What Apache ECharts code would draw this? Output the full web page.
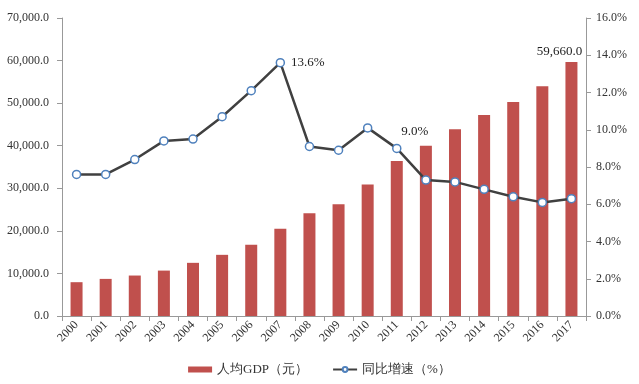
<!DOCTYPE html>
<html><head><meta charset="utf-8">
<script src="https://cdn.jsdelivr.net/npm/echarts@6/dist/echarts.min.js"></script>
<style>html,body{margin:0;padding:0;background:#fff}#c{width:639px;height:384px}</style>
</head><body><div id="c"></div>
<script>
const years = ['2000','2001','2002','2003','2004','2005','2006','2007','2008','2009','2010','2011','2012','2013','2014','2015','2016','2017'];
const gdpPerCapita = [7942,8717,9506,10666,12487,14368,16738,20505,24121,26222,30876,36403,40007,43852,47203,50251,53980,59660];
const growth = [7.6,7.6,8.4,9.4,9.5,10.7,12.1,13.6,9.1,8.9,10.1,9.0,7.3,7.2,6.8,6.4,6.1,6.3];
const barName = '人均GDP（元）';
const lineName = '同比增速（%）';
const labeledGrowth = {'2007':'right','2011':'top'};
const labeledBar = {'2017':true};

const font = '"Liberation Serif","Times New Roman",serif';
const chart = echarts.init(document.getElementById('c'));
chart.setOption({
  animation:false,
  textStyle:{fontFamily:font},
  grid:{left:62,right:53,top:18,bottom:68},
  legend:{
    bottom:3,left:'center',itemGap:24,
    textStyle:{fontFamily:font,fontSize:13,color:'#333'},
    data:[{name:barName,icon:'rect'},{name:lineName}],
    itemWidth:24,itemHeight:6
  },
  xAxis:{
    type:'category',data:years,
    axisLine:{lineStyle:{color:'#999'}},
    axisTick:{show:true,alignWithLabel:false,lineStyle:{color:'#999'},length:5},
    axisLabel:{rotate:45,fontFamily:font,fontSize:12,color:'#333',margin:7,interval:0}
  },
  yAxis:[{
    type:'value',min:0,max:70000,interval:10000,
    axisLine:{show:true,lineStyle:{color:'#999'}},
    axisTick:{show:true,lineStyle:{color:'#999'},length:5},
    splitLine:{show:false},
    axisLabel:{fontFamily:font,fontSize:12,color:'#333',margin:13,
      formatter:v=>v.toLocaleString('en-US',{minimumFractionDigits:1,maximumFractionDigits:1})}
  },{
    type:'value',min:0,max:16,interval:2,
    axisLine:{show:true,lineStyle:{color:'#999'}},
    axisTick:{show:true,lineStyle:{color:'#999'},length:5},
    splitLine:{show:false},
    axisLabel:{fontFamily:font,fontSize:12,color:'#333',margin:10,formatter:v=>v.toFixed(1)+'%'}
  }],
  series:[{
    name:barName,type:'bar',data:gdpPerCapita.map((v,i)=>({
      value:v,
      label:labeledBar[years[i]]?{show:true,position:'top',offset:[-12,0],distance:4,fontFamily:font,fontSize:13,color:'#222',
        formatter:p=>p.value.toLocaleString('en-US',{minimumFractionDigits:1})}:{show:false}
    })),
    barWidth:12,itemStyle:{color:'#c0504d'}
  },{
    name:lineName,type:'line',yAxisIndex:1,data:growth.map((v,i)=>{
      const pos = labeledGrowth[years[i]];
      return {value:v,label:pos?{show:true,position:pos,offset:pos==='top'?[18,0]:[0,0],distance:6,fontFamily:font,fontSize:13,color:'#222',formatter:p=>p.value.toFixed(1)+'%'}:{show:false}};
    }),
    symbol:'circle',symbolSize:8,
    lineStyle:{color:'#404040',width:2.5},
    itemStyle:{color:'#fff',borderColor:'#4f81bd',borderWidth:1.5},
    z:3
  }]
});
</script></body></html>
